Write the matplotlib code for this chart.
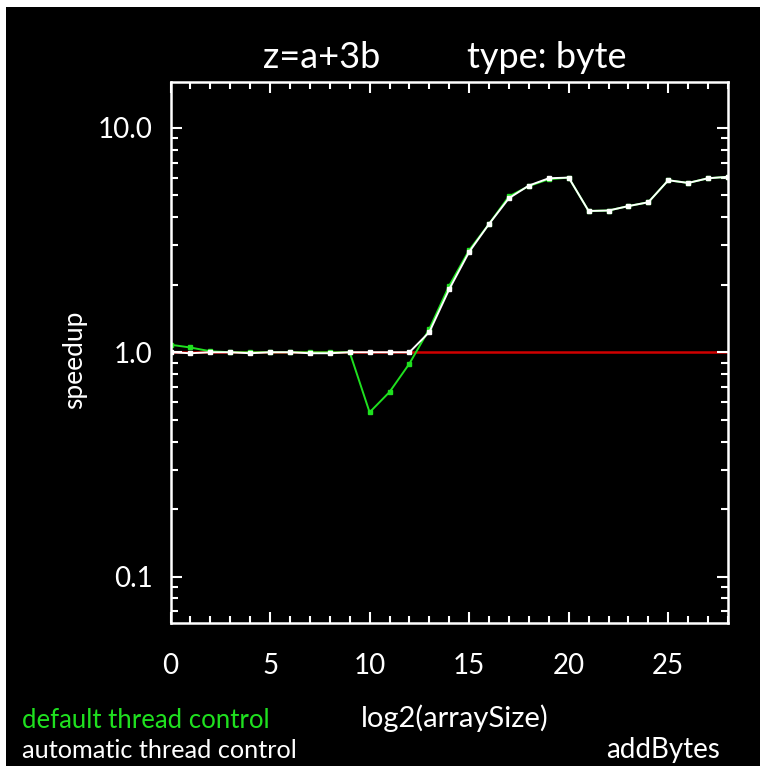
import matplotlib
matplotlib.use('Agg')
import matplotlib.pyplot as plt
from matplotlib.patches import Rectangle
from matplotlib.ticker import FixedLocator, NullFormatter

# log2 of the array size
log2_size = list(range(0, 29))

# speedup, automatic thread control (white)
speedup_auto = [1.0, 0.99, 1.0, 1.0, 0.99, 1.0, 1.0, 0.99, 0.99, 1.0,
                1.0, 1.0, 1.0, 1.23, 1.91, 2.80, 3.73, 4.86, 5.53, 5.96,
                6.0, 4.26, 4.28, 4.48, 4.66, 5.84, 5.68, 5.96, 6.05]

# speedup, default thread control (green)
speedup_default = [1.08, 1.05, 1.01, 1.0, 1.0, 1.0, 1.0, 1.0, 1.0, 1.0,
                   0.54, 0.665, 0.89, 1.27, 1.98, 2.85, 3.73, 4.95, 5.5, 5.9,
                   6.0, 4.26, 4.28, 4.48, 4.66, 5.84, 5.68, 5.96, 6.05]

x_ticks = [0, 5, 10, 15, 20, 25]
y_ticks = [0.1, 1.0, 10.0]
y_ticklabels = ['0.1', '1.0', '10.0']

W, H = 766, 772
green = '#1fe01f'
fam = ['Lato', 'DejaVu Sans']
font = dict(family=fam, weight='normal', color='white')


def make_plot():
    fig = plt.figure(figsize=(W / 100, H / 100), dpi=100)
    fig.patch.set_facecolor('white')
    # black frame inside thin white border
    fig.patches.append(Rectangle((6 / W, 6 / H), 754 / W, 759 / H,
                                 transform=fig.transFigure, facecolor='black',
                                 edgecolor='none', zorder=-10))

    ax = fig.add_axes([170.5 / W, 1 - 622.5 / H, 557.5 / W, 540.5 / H])
    ax.set_facecolor('black')
    ax.set_yscale('log')
    ax.set_xlim(0, 28)
    ax.set_ylim(1 / 16, 16)

    ax.axhline(1.0, color='#d00000', lw=1.8, zorder=1)
    ax.plot(log2_size, speedup_default, color=green, lw=1.4, marker='s', ms=3.5,
            mec=green, mfc=green, zorder=2)
    ax.plot(log2_size, speedup_auto, color='white', lw=1.4, marker='s', ms=3.5,
            mec='white', mfc='white', zorder=3)

    for s in ax.spines.values():
        s.set_color('white')
        s.set_linewidth(1.8)

    ax.xaxis.set_major_locator(FixedLocator(x_ticks))
    ax.xaxis.set_minor_locator(FixedLocator(log2_size))
    ax.set_xticklabels([str(t) for t in x_ticks])
    ax.yaxis.set_major_locator(FixedLocator(y_ticks))
    minors = [m * 10.0 ** e for e in (-2, -1, 0, 1) for m in range(2, 10)]
    ax.yaxis.set_minor_locator(FixedLocator(minors))
    ax.yaxis.set_minor_formatter(NullFormatter())
    ax.set_yticklabels(y_ticklabels)

    ax.tick_params(which='both', direction='in', colors='white',
                   top=True, right=True, width=1.5)
    ax.tick_params(which='major', length=8)
    ax.tick_params(which='minor', length=5)
    ax.tick_params(axis='x', which='major', pad=22)
    ax.tick_params(axis='y', which='major', pad=13)
    for lab in ax.get_xticklabels() + ax.get_yticklabels():
        lab.set_fontsize(20)
        lab.set_family(fam)
        lab.set_weight('normal')

    fig.text(322 / W, 1 - 58 / H, 'z=a+3b', ha='center', va='center',
             fontsize=26, **font)
    fig.text(547 / W, 1 - 58 / H, 'type: byte', ha='center', va='center',
             fontsize=26, **font)
    fig.text(455 / W, 1 - 718 / H, 'log2(arraySize)', ha='center',
             va='center', fontsize=21, **font)
    fig.text(75 / W, 1 - 360 / H, 'speedup', ha='center', va='center',
             rotation=90, fontsize=19, **font)
    fig.text(22 / W, 1 - 720 / H, 'default thread control', ha='left',
             va='center', fontsize=18.5, family=fam, weight='normal', color=green)
    fig.text(22 / W, 1 - 750 / H, 'automatic thread control', ha='left',
             va='center', fontsize=18.2, **font)
    fig.text(720 / W, 1 - 750 / H, 'addBytes', ha='right', va='center',
             fontsize=20, **font)

    fig.savefig('out.png', dpi=100, facecolor=fig.get_facecolor())


if __name__ == '__main__':
    make_plot()
